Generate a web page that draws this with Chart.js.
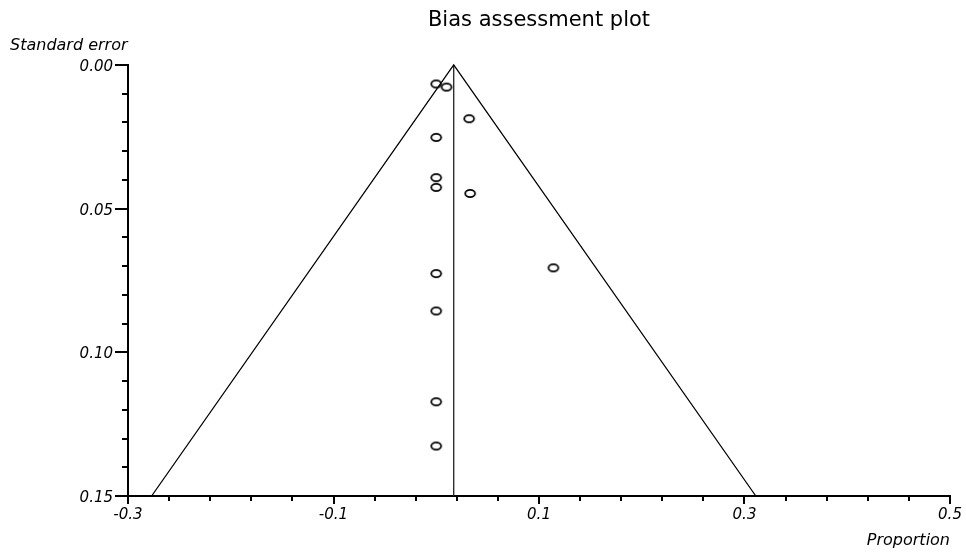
<!DOCTYPE html>
<html>
<head>
<meta charset="utf-8">
<script src="https://cdn.jsdelivr.net/npm/chart.js@4"></script>
<style>
html, body { margin: 0; padding: 0; background: #fff; }
#wrap { width: 966px; height: 552px; }
canvas { display: block; }
</style>
</head>
<body>
<div id="wrap"><canvas id="c" width="966" height="552"></canvas></div>
<script>
// ---- Data ----
const proportion    = [0, 0.010, 0.032, 0, 0, 0, 0.033, 0.114, 0, 0, 0, 0];
const standardError = [0.0066, 0.0077, 0.0187, 0.0252, 0.0392, 0.0426, 0.0447, 0.0706, 0.0726, 0.0856, 0.1172, 0.1326];
const pooledProportion = 0.017;
const funnelBase = [-0.277, 0.311];   // funnel edges at the largest standard error
const seMax = 0.15;

// ---- Tick values ----
const xMajorTicks = [-0.3, -0.1, 0.1, 0.3, 0.5];
const xMinorTicks = [-0.26, -0.22, -0.18, -0.14, -0.06, -0.02, 0.02, 0.06, 0.14, 0.18, 0.22, 0.26, 0.34, 0.38, 0.42, 0.46];
const yMajorTicks = [0, 0.05, 0.10, 0.15];
const yMinorTicks = [0.01, 0.02, 0.03, 0.04, 0.06, 0.07, 0.08, 0.09, 0.11, 0.12, 0.13, 0.14];

// ---- Texts ----
const chartTitle = 'Bias assessment plot';
const xTitle = 'Proportion';
const yTitle = 'Standard error';

const FONT = 'DejaVu Sans';
Chart.defaults.color = '#000';
Chart.defaults.font.family = FONT;

// hollow elliptical marker
function makeMarker() {
  const c = document.createElement('canvas');
  c.width = 16; c.height = 13;
  const g = c.getContext('2d');
  g.strokeStyle = '#000';
  g.lineWidth = 1.8;
  g.beginPath();
  g.ellipse(8, 6.5, 4.9, 3.7, 0, 0, Math.PI * 2);
  g.stroke();
  return c;
}
const marker = makeMarker();

const axisDecor = {
  id: 'axisDecor',
  afterDraw(chart) {
    const { ctx, chartArea: a } = chart;
    const xs = chart.scales.x, ys = chart.scales.y;
    ctx.save();
    ctx.strokeStyle = '#000';
    ctx.lineWidth = 2;
    const line = (x1, y1, x2, y2) => { ctx.beginPath(); ctx.moveTo(x1, y1); ctx.lineTo(x2, y2); ctx.stroke(); };
    yMajorTicks.forEach(v => { const p = Math.round(ys.getPixelForValue(v)); line(a.left - 13, p, a.left, p); });
    yMinorTicks.forEach(v => { const p = Math.round(ys.getPixelForValue(v)); line(a.left - 6, p, a.left, p); });
    xMajorTicks.forEach(v => { const p = Math.round(xs.getPixelForValue(v)); line(p, a.bottom, p, a.bottom + 8); });
    xMinorTicks.forEach(v => { const p = Math.round(xs.getPixelForValue(v)); line(p, a.bottom, p, a.bottom + 5); });
    ctx.font = 'italic 16px "' + FONT + '"';
    ctx.fillStyle = '#000';
    ctx.textAlign = 'left';
    ctx.textBaseline = 'middle';
    ctx.fillText(yTitle, 10, 46);
    ctx.restore();
  }
};

new Chart(document.getElementById('c'), {
  type: 'scatter',
  data: {
    datasets: [
      {
        label: 'Funnel',
        type: 'line',
        data: [
          { x: funnelBase[0], y: seMax },
          { x: pooledProportion, y: 0 },
          { x: funnelBase[1], y: seMax }
        ],
        borderColor: '#000',
        borderWidth: 1.3,
        pointRadius: 0,
        fill: false,
        tension: 0,
        clip: false
      },
      {
        label: 'Pooled',
        type: 'line',
        data: [
          { x: pooledProportion, y: 0 },
          { x: pooledProportion, y: seMax }
        ],
        borderColor: '#222',
        borderWidth: 1.3,
        pointRadius: 0,
        fill: false,
        clip: false
      },
      {
        label: 'Studies',
        data: proportion.map((p, i) => ({ x: p, y: standardError[i] })),
        pointStyle: marker,
        pointRadius: 5,
        borderColor: '#000',
        backgroundColor: 'rgba(0,0,0,0)'
      }
    ]
  },
  options: {
    responsive: false,
    devicePixelRatio: 1,
    animation: false,
    events: [],
    layout: { padding: { left: 0, right: 16, top: 0, bottom: 0 } },
    plugins: {
      legend: { display: false },
      tooltip: { enabled: false },
      title: {
        display: true,
        text: chartTitle,
        fullSize: false,
        color: '#000',
        font: { family: FONT, size: 21, weight: 'normal' },
        padding: { top: 8, bottom: 31.8 }
      }
    },
    scales: {
      x: {
        type: 'linear',
        min: -0.3,
        max: 0.5,
        afterBuildTicks: s => { s.ticks = xMajorTicks.map(v => ({ value: v })); },
        afterFit: s => { s.height = 56; s.paddingLeft = 0; s.paddingRight = 0; },
        ticks: {
          callback: v => Number(v).toFixed(1),
          font: { family: FONT, style: 'italic', size: 15 },
          color: '#000',
          padding: 10,
          maxRotation: 0,
          autoSkip: false
        },
        grid: { display: false, drawTicks: false },
        border: { display: true, color: '#000', width: 2 },
        title: {
          display: true,
          text: xTitle,
          align: 'end',
          color: '#000',
          font: { family: FONT, style: 'italic', size: 16 },
          padding: { top: 0, bottom: 2 }
        }
      },
      y: {
        type: 'linear',
        reverse: true,
        min: 0,
        max: 0.15,
        afterBuildTicks: s => { s.ticks = yMajorTicks.map(v => ({ value: v })); },
        afterFit: s => { s.width = 128; s.paddingTop = 0; s.paddingBottom = 0; },
        ticks: {
          callback: v => Number(v).toFixed(2),
          font: { family: FONT, style: 'italic', size: 15 },
          color: '#000',
          padding: 15,
          labelOffset: 2,
          autoSkip: false
        },
        grid: { display: false, drawTicks: false },
        border: { display: true, color: '#000', width: 2 }
      }
    }
  },
  plugins: [axisDecor]
});
</script>
</body>
</html>
